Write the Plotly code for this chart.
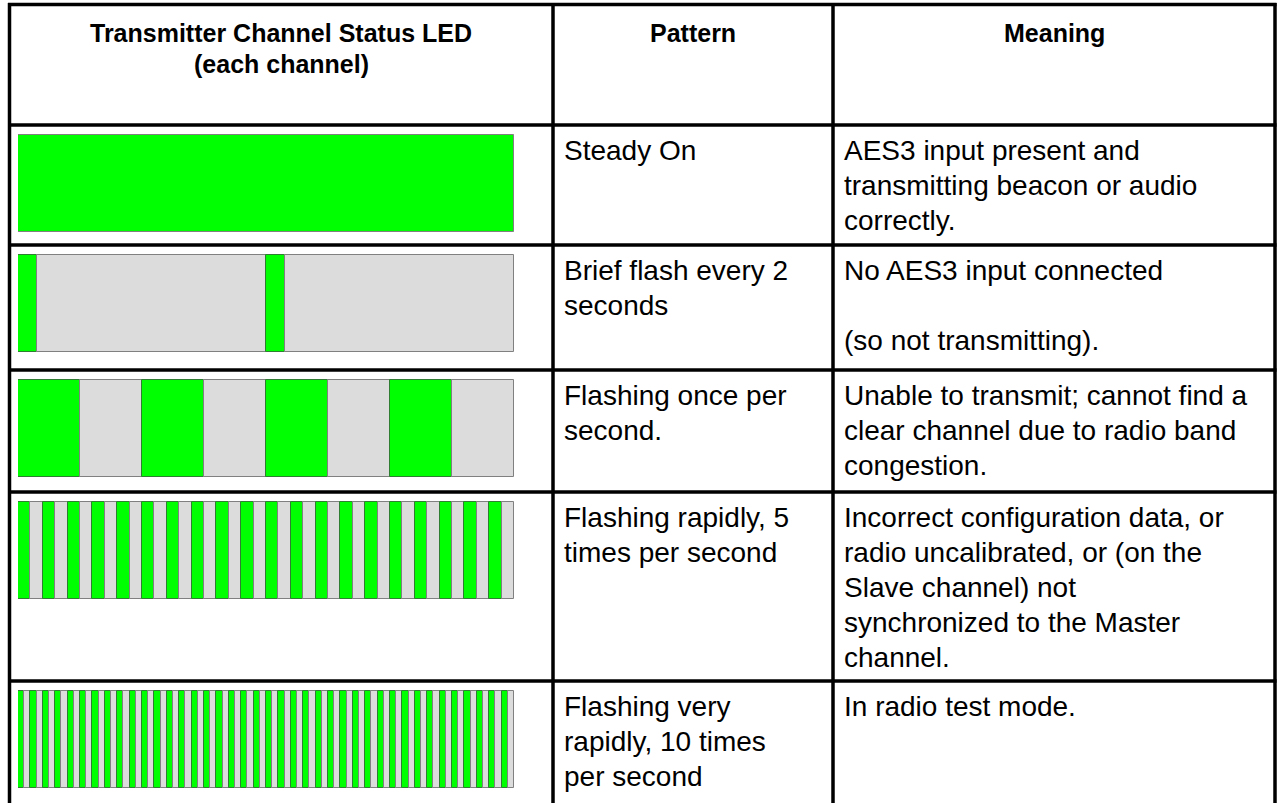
import plotly.graph_objects as go

# ---------------- data ----------------
header_led = "Transmitter Channel Status LED<br>(each channel)"
header_pattern = "Pattern"
header_meaning = "Meaning"

patterns = [
    "Steady On",
    "Brief flash every 2<br>seconds",
    "Flashing once per<br>second.",
    "Flashing rapidly, 5<br>times per second",
    "Flashing very<br>rapidly, 10 times<br>per second",
]
meanings = [
    "AES3 input present and<br>transmitting beacon or audio<br>correctly.",
    "No AES3 input connected<br><br>(so not transmitting).",
    "Unable to transmit; cannot find a<br>clear channel due to radio band<br>congestion.",
    "Incorrect configuration data, or<br>radio uncalibrated, or (on the<br>Slave channel) not<br>synchronized to the Master<br>channel.",
    "In radio test mode.",
]
# LED timing per row over a 4-second window (seconds)
on_seconds = [4.0, 0.15, 0.5, 0.1, 0.05]
off_seconds = [0.0, 1.85, 0.5, 0.1, 0.05]
flash_counts = [1, 2, 4, 20, 40]
window_seconds = 4.0

# ---------------- layout constants (pixels) ----------------
W, H = 1278, 803
col_lines = [9.5, 553, 833, 1275]
row_lines = [4.5, 125, 245, 370, 492, 681]
bar_px = (18, 514)
bar_top_pad = 10
bar_height = 97
line_step = 35

GREEN = "#00FF00"
GREEN_EDGE = "#2E7D32"
GREY = "#DCDCDC"
GREY_EDGE = "#808080"
FONT = "Liberation Sans, Arial, sans-serif"

# ---------------- build LED bars ----------------
ys, xs, bases, fills, edges, widths = [], [], [], [], [], []
for i in range(len(on_seconds)):
    yc = row_lines[i + 1] + bar_top_pad + bar_height / 2
    t = 0.0
    for k in range(flash_counts[i]):
        ys.append(yc); xs.append(on_seconds[i]); bases.append(t)
        fills.append(GREEN); edges.append(GREEN_EDGE if flash_counts[i] > 1 else GREY_EDGE)
        widths.append(bar_height)
        t += on_seconds[i]
        if off_seconds[i] > 0:
            ys.append(yc); xs.append(off_seconds[i]); bases.append(t)
            fills.append(GREY); edges.append(GREY_EDGE); widths.append(bar_height)
            t += off_seconds[i]

fig = go.Figure()
fig.add_trace(go.Bar(
    orientation="h", y=ys, x=xs, base=bases, width=widths,
    marker=dict(color=fills, line=dict(color=edges, width=1)),
    hoverinfo="skip", showlegend=False,
))

# ---------------- table grid ----------------
shapes = []
bottom = H + 5
for cx in col_lines:
    shapes.append(dict(type="line", xref="paper", yref="y", x0=cx / W, x1=cx / W,
                       y0=row_lines[0] - 1.5, y1=bottom, line=dict(color="black", width=3.5)))
for ry in row_lines:
    shapes.append(dict(type="line", xref="paper", yref="y", x0=(col_lines[0] - 1.5) / W,
                       x1=(col_lines[-1] + 1.5) / W, y0=ry, y1=ry,
                       line=dict(color="black", width=3.5)))

# ---------------- text ----------------
annotations = []
hdr_font = dict(family=FONT, size=25, color="black")
hdr_top = 17
for txt, c0, c1 in [(header_led, col_lines[0], col_lines[1]),
                    (header_pattern, col_lines[1], col_lines[2]),
                    (header_meaning, col_lines[2], col_lines[3])]:
    for k, line in enumerate(txt.split("<br>")):
        annotations.append(dict(text="<b>" + line + "</b>",
                                xref="paper", yref="y", x=(c0 + c1) / 2 / W, y=hdr_top + k * 31,
                                xanchor="center", yanchor="top", align="center",
                                showarrow=False, font=hdr_font))

body_font = dict(family=FONT, size=28, color="black")
for i in range(len(patterns)):
    top = row_lines[i + 1] + 8
    for col_x, txt in [(col_lines[1], patterns[i]), (col_lines[2], meanings[i])]:
        for k, line in enumerate(txt.split("<br>")):
            if not line:
                continue
            annotations.append(dict(text=line, xref="paper", yref="y",
                                    x=(col_x + 9) / W, y=top + k * line_step,
                                    xanchor="left", yanchor="top", align="left",
                                    showarrow=False, font=body_font))

fig.update_layout(
    width=W, height=H, margin=dict(l=0, r=0, t=0, b=0),
    paper_bgcolor="white", plot_bgcolor="rgba(0,0,0,0)",
    xaxis=dict(domain=[bar_px[0] / W, bar_px[1] / W], range=[0, window_seconds],
               visible=False, fixedrange=True),
    yaxis=dict(domain=[0, 1], range=[H, 0], visible=False, fixedrange=True),
    shapes=shapes, annotations=annotations, bargap=0,
)

fig.write_html("out.html", config={"displayModeBar": False},
               post_script="document.body.style.margin='0';document.body.style.overflow='hidden';")
